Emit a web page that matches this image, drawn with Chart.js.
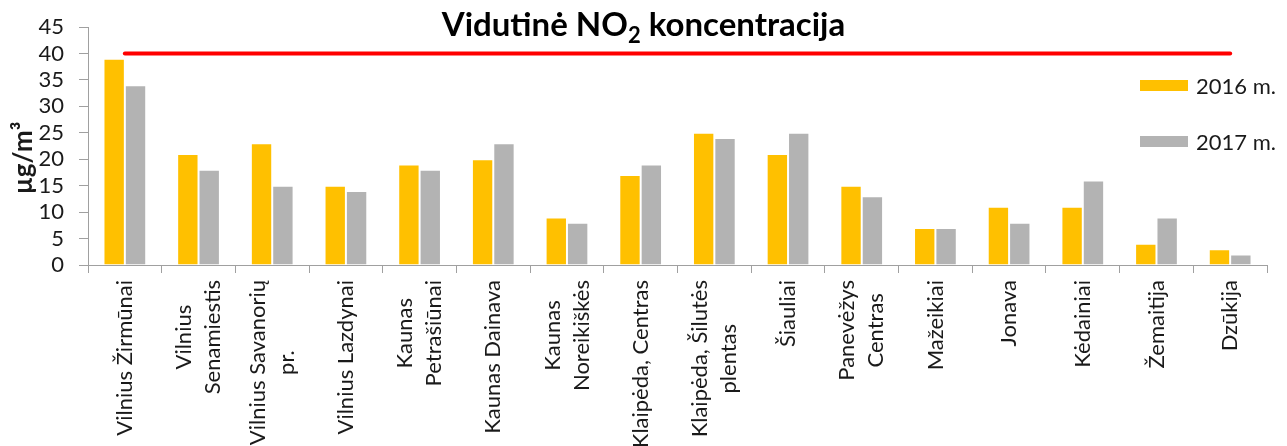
<!DOCTYPE html>
<html lang="lt">
  <head>
    <meta charset="UTF-8" />
    <title>Vidutinė NO2 koncentracija</title>
    <script src="https://cdn.jsdelivr.net/npm/chart.js"></script>
    <style>
      html, body {
        margin: 0;
        padding: 0;
        background: #fff;
      }
      #wrap {
        position: relative;
        width: 1287px;
        height: 446px;
      }
      #title {
        position: absolute;
        left: 0;
        top: 3px;
        width: 1287px;
        text-align: center;
        font-family: Lato, sans-serif;
        font-weight: bold;
        font-size: 33px;
        color: #000;
      }
      #title sub {
        font-size: 22px;
        vertical-align: -7px;
        line-height: 0;
      }
    </style>
  </head>
  <body>
    <div id="wrap">
      <canvas id="no2Chart" width="1287" height="446"></canvas>
      <div id="title">Vidutinė NO<sub>2</sub> koncentracija</div>
    </div>
    <script>
      // stations (multi-line labels as arrays)
      const stations = [
        ["Vilnius Žirmūnai"],
        ["Vilnius", "Senamiestis"],
        ["Vilnius Savanorių", "pr."],
        ["Vilnius Lazdynai"],
        ["Kaunas", "Petrašiūnai"],
        ["Kaunas Dainava"],
        ["Kaunas", "Noreikiškės"],
        ["Klaipėda, Centras"],
        ["Klaipėda, Šilutės", "plentas"],
        ["Šiauliai"],
        ["Panevėžys", "Centras"],
        ["Mažeikiai"],
        ["Jonava"],
        ["Kėdainiai"],
        ["Žemaitija"],
        ["Dzūkija"],
      ];
      const values2016 = [39, 21, 23, 15, 19, 20, 9, 17, 25, 21, 15, 7, 11, 11, 4, 3];
      const values2017 = [34, 18, 15, 14, 18, 23, 8, 19, 24, 25, 13, 7, 8, 16, 9, 2];
      const limitValue = 40;
      const yMax = 45;
      const yStep = 5;
      const yTitle = "µg/m³";

      const textColor = "#1a1a1a";
      const axisColor = "#a0a0a0";

      // draws the rotated, centred multi-line station names under the x axis
      const stationLabels = {
        id: "stationLabels",
        afterDraw(chart) {
          const { ctx } = chart;
          const x = chart.scales.x;
          const lineH = 29;
          const top = x.top + 15;
          ctx.save();
          ctx.font = "22px Lato";
          ctx.fillStyle = textColor;
          ctx.textAlign = "center";
          ctx.textBaseline = "middle";
          chart.data.labels.forEach((lines, i) => {
            const cx = x.getPixelForValue(i);
            const longest = Math.max(...lines.map((l) => ctx.measureText(l).width));
            ctx.save();
            ctx.translate(cx, top + longest / 2);
            ctx.rotate(-Math.PI / 2);
            lines.forEach((line, j) => {
              ctx.fillText(line, 0, (j - (lines.length - 1) / 2) * lineH);
            });
            ctx.restore();
          });
          ctx.restore();
        },
      };

      // y axis unit, a bit below the middle of the axis like the original
      const unitTitle = {
        id: "unitTitle",
        afterDraw(chart) {
          const { ctx, chartArea } = chart;
          ctx.save();
          ctx.font = "bold 26px Lato";
          ctx.fillStyle = textColor;
          ctx.textAlign = "center";
          ctx.textBaseline = "middle";
          ctx.translate(24, chartArea.bottom - 107);
          ctx.rotate(-Math.PI / 2);
          ctx.fillText(yTitle, 0, 0);
          ctx.restore();
        },
      };

      // legend on the right, inside the plot like the original
      const sideLegend = {
        id: "sideLegend",
        afterDraw(chart) {
          const { ctx, chartArea } = chart;
          const left = chartArea.right - 127;
          ctx.save();
          ctx.font = "22px Lato";
          ctx.textBaseline = "middle";
          chart.data.datasets
            .filter((d) => d.type !== "line")
            .forEach((ds, i) => {
              const y = 85.5 + i * 56;
              ctx.fillStyle = ds.backgroundColor;
              ctx.fillRect(left, y - 5.5, 48, 11);
              ctx.fillStyle = textColor;
              ctx.fillText(ds.label, left + 56, y + 1);
            });
          ctx.restore();
        },
      };

      const ctx = document.getElementById("no2Chart").getContext("2d");
      new Chart(ctx, {
        type: "bar",
        data: {
          labels: stations,
          datasets: [
            {
              type: "line",
              label: "Ribinė vertė",
              data: stations.map(() => limitValue),
              borderColor: "#ff0000",
              borderWidth: 4,
              borderCapStyle: "round",
              pointRadius: 0,
              order: 0,
            },
            {
              label: "2016 m.",
              data: values2016,
              backgroundColor: "#ffc000",
              borderColor: "#ffffff",
              borderWidth: 1,
              borderSkipped: "bottom",
              categoryPercentage: 0.58,
              barPercentage: 1,
              order: 1,
            },
            {
              label: "2017 m.",
              data: values2017,
              backgroundColor: "#b3b3b3",
              borderColor: "#ffffff",
              borderWidth: 1,
              borderSkipped: "bottom",
              categoryPercentage: 0.58,
              barPercentage: 1,
              order: 1,
            },
          ],
        },
        options: {
          responsive: false,
          animation: false,
          layout: { padding: { top: 27, right: 20, left: 0, bottom: 0 } },
          plugins: {
            legend: { display: false },
            tooltip: { enabled: false },
          },
          scales: {
            x: {
              offset: true,
              grid: {
                offset: true,
                drawOnChartArea: false,
                tickLength: 8,
                color: axisColor,
              },
              border: { color: axisColor },
              ticks: { display: false },
              afterFit(scale) {
                scale.height = 181;
              },
            },
            y: {
              min: 0,
              max: yMax,
              ticks: {
                stepSize: yStep,
                autoSkip: false,
                color: textColor,
                padding: 15,
                font: { family: "Lato", size: 22, lineHeight: 1 },
              },
              grid: {
                drawOnChartArea: false,
                tickLength: 9,
                color: axisColor,
              },
              border: { color: axisColor },
              afterFit(scale) {
                scale.width = 88;
              },
            },
          },
        },
        plugins: [stationLabels, unitTitle, sideLegend],
      });
    </script>
  </body>
</html>
